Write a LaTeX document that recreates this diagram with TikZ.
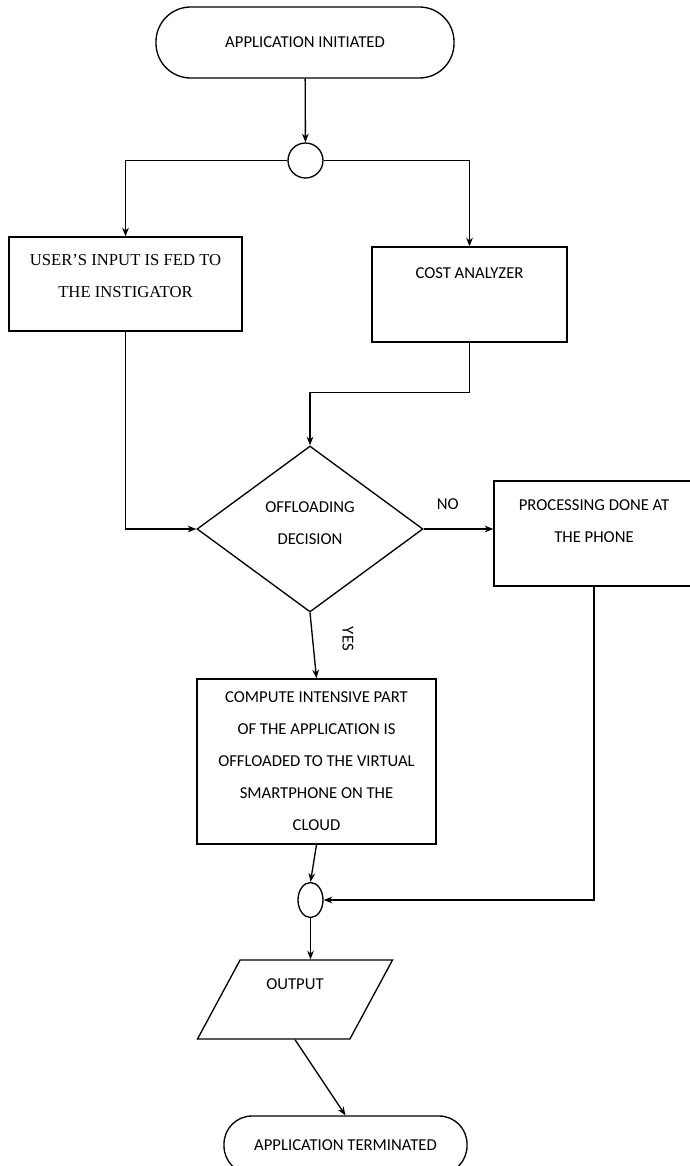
\documentclass[tikz,border=0pt]{standalone}
\usepackage{fontspec}
\setmainfont{Carlito}
\newfontfamily\userfont{Liberation Serif}
\usetikzlibrary{shapes.geometric, arrows.meta}

\begin{document}
\begin{tikzpicture}[x=0.75pt, y=-0.75pt, font=\fontsize{12.5}{24}\selectfont,
    term/.style={rectangle, draw, line width=1pt, align=center},
    box/.style={rectangle, draw, line width=1pt, align=center},
    junc/.style={draw, line width=1pt, inner sep=0pt},
    dec/.style={diamond, draw, line width=1pt, align=center, inner sep=1pt},
    io/.style={trapezium, trapezium left angle=63, trapezium right angle=117, trapezium stretches=true, draw, line width=1pt, align=center}]

    \useasboundingbox[fill=white] (0,0) rectangle (689,1166);

    \node [term, rounded corners=26pt, minimum width=223.5pt, minimum height=53.25pt] (start) at (305,42.5) {APPLICATION INITIATED};
    \node [junc, circle, minimum size=26.25pt] (j1) at (305.5,160.5) {};
    \node [box, minimum width=174.75pt, minimum height=70.5pt, text depth=12pt, font=\userfont\fontsize{12.5}{24}\selectfont] (user) at (125.5,284) {USER’S INPUT IS FED TO\\THE INSTIGATOR};
    \node [box, minimum width=146.25pt, minimum height=71.25pt, text depth=32pt] (cost) at (469.5,294.5) {COST ANALYZER};
    \node [dec, minimum width=169.5pt, minimum height=124.5pt, text depth=9pt] (decision) at (310,529) {OFFLOADING\\DECISION};
    \node [box, minimum width=150pt, minimum height=78.75pt, text depth=18.8pt] (phone) at (594,533.5) {PROCESSING DONE AT\\THE PHONE};
    \node [box, minimum width=179.25pt, minimum height=123.75pt] (cloud) at (316.5,761.5) {COMPUTE INTENSIVE PART\\OF THE APPLICATION IS\\OFFLOADED TO THE VIRTUAL\\SMARTPHONE ON THE\\CLOUD};
    \node [junc, ellipse, minimum width=18.75pt, minimum height=26.25pt] (j2) at (310.5,900) {};
    \node [io, minimum width=147pt, minimum height=59.25pt, text depth=23pt] (output) at (295,999.5) {OUTPUT};
    \node [term, rounded corners=21pt, minimum width=182.25pt, minimum height=43.5pt] (stop) at (345.5,1145) {APPLICATION TERMINATED};

    \draw [->, >={Stealth[length=6.5pt, width=5pt]}, line width=1pt] (start) -- (j1);
    \draw [->, >={Stealth[length=6.5pt, width=5pt]}, line width=1pt] (j1.west) -| (user.north);
    \draw [->, >={Stealth[length=6.5pt, width=5pt]}, line width=1pt] (j1.east) -| (cost.north);
    \draw [->, >={Stealth[length=6.5pt, width=5pt]}, line width=1pt] (user.south) |- (decision.west);
    \draw [->, >={Stealth[length=6.5pt, width=5pt]}, line width=1pt] (cost.south) -- ++(0,50) -| (decision.north);
    \draw [->, >={Stealth[length=6.5pt, width=5pt]}, line width=1pt] (decision.east) -- (decision.east -| phone.west) node [midway, above=11pt, xshift=-8pt] (no) {NO};
    \draw [->, >={Stealth[length=6.5pt, width=5pt]}, line width=1pt] (decision.south) -- (cloud.north) node [midway, xshift=26pt, yshift=5pt, rotate=-90] (yes) {YES};
    \draw [->, >={Stealth[length=6.5pt, width=5pt]}, line width=1pt] (cloud.south) -- (j2.north);
    \draw [->, >={Stealth[length=6.5pt, width=5pt]}, line width=1pt] (phone.south) |- (j2.east);
    \draw [->, >={Stealth[length=6.5pt, width=5pt]}, line width=1pt] (j2.south) -- (j2.south |- output.north);
    \draw [->, >={Stealth[length=6.5pt, width=5pt]}, line width=1pt] (output.south) -- (stop.north);
\end{tikzpicture}
\end{document}
